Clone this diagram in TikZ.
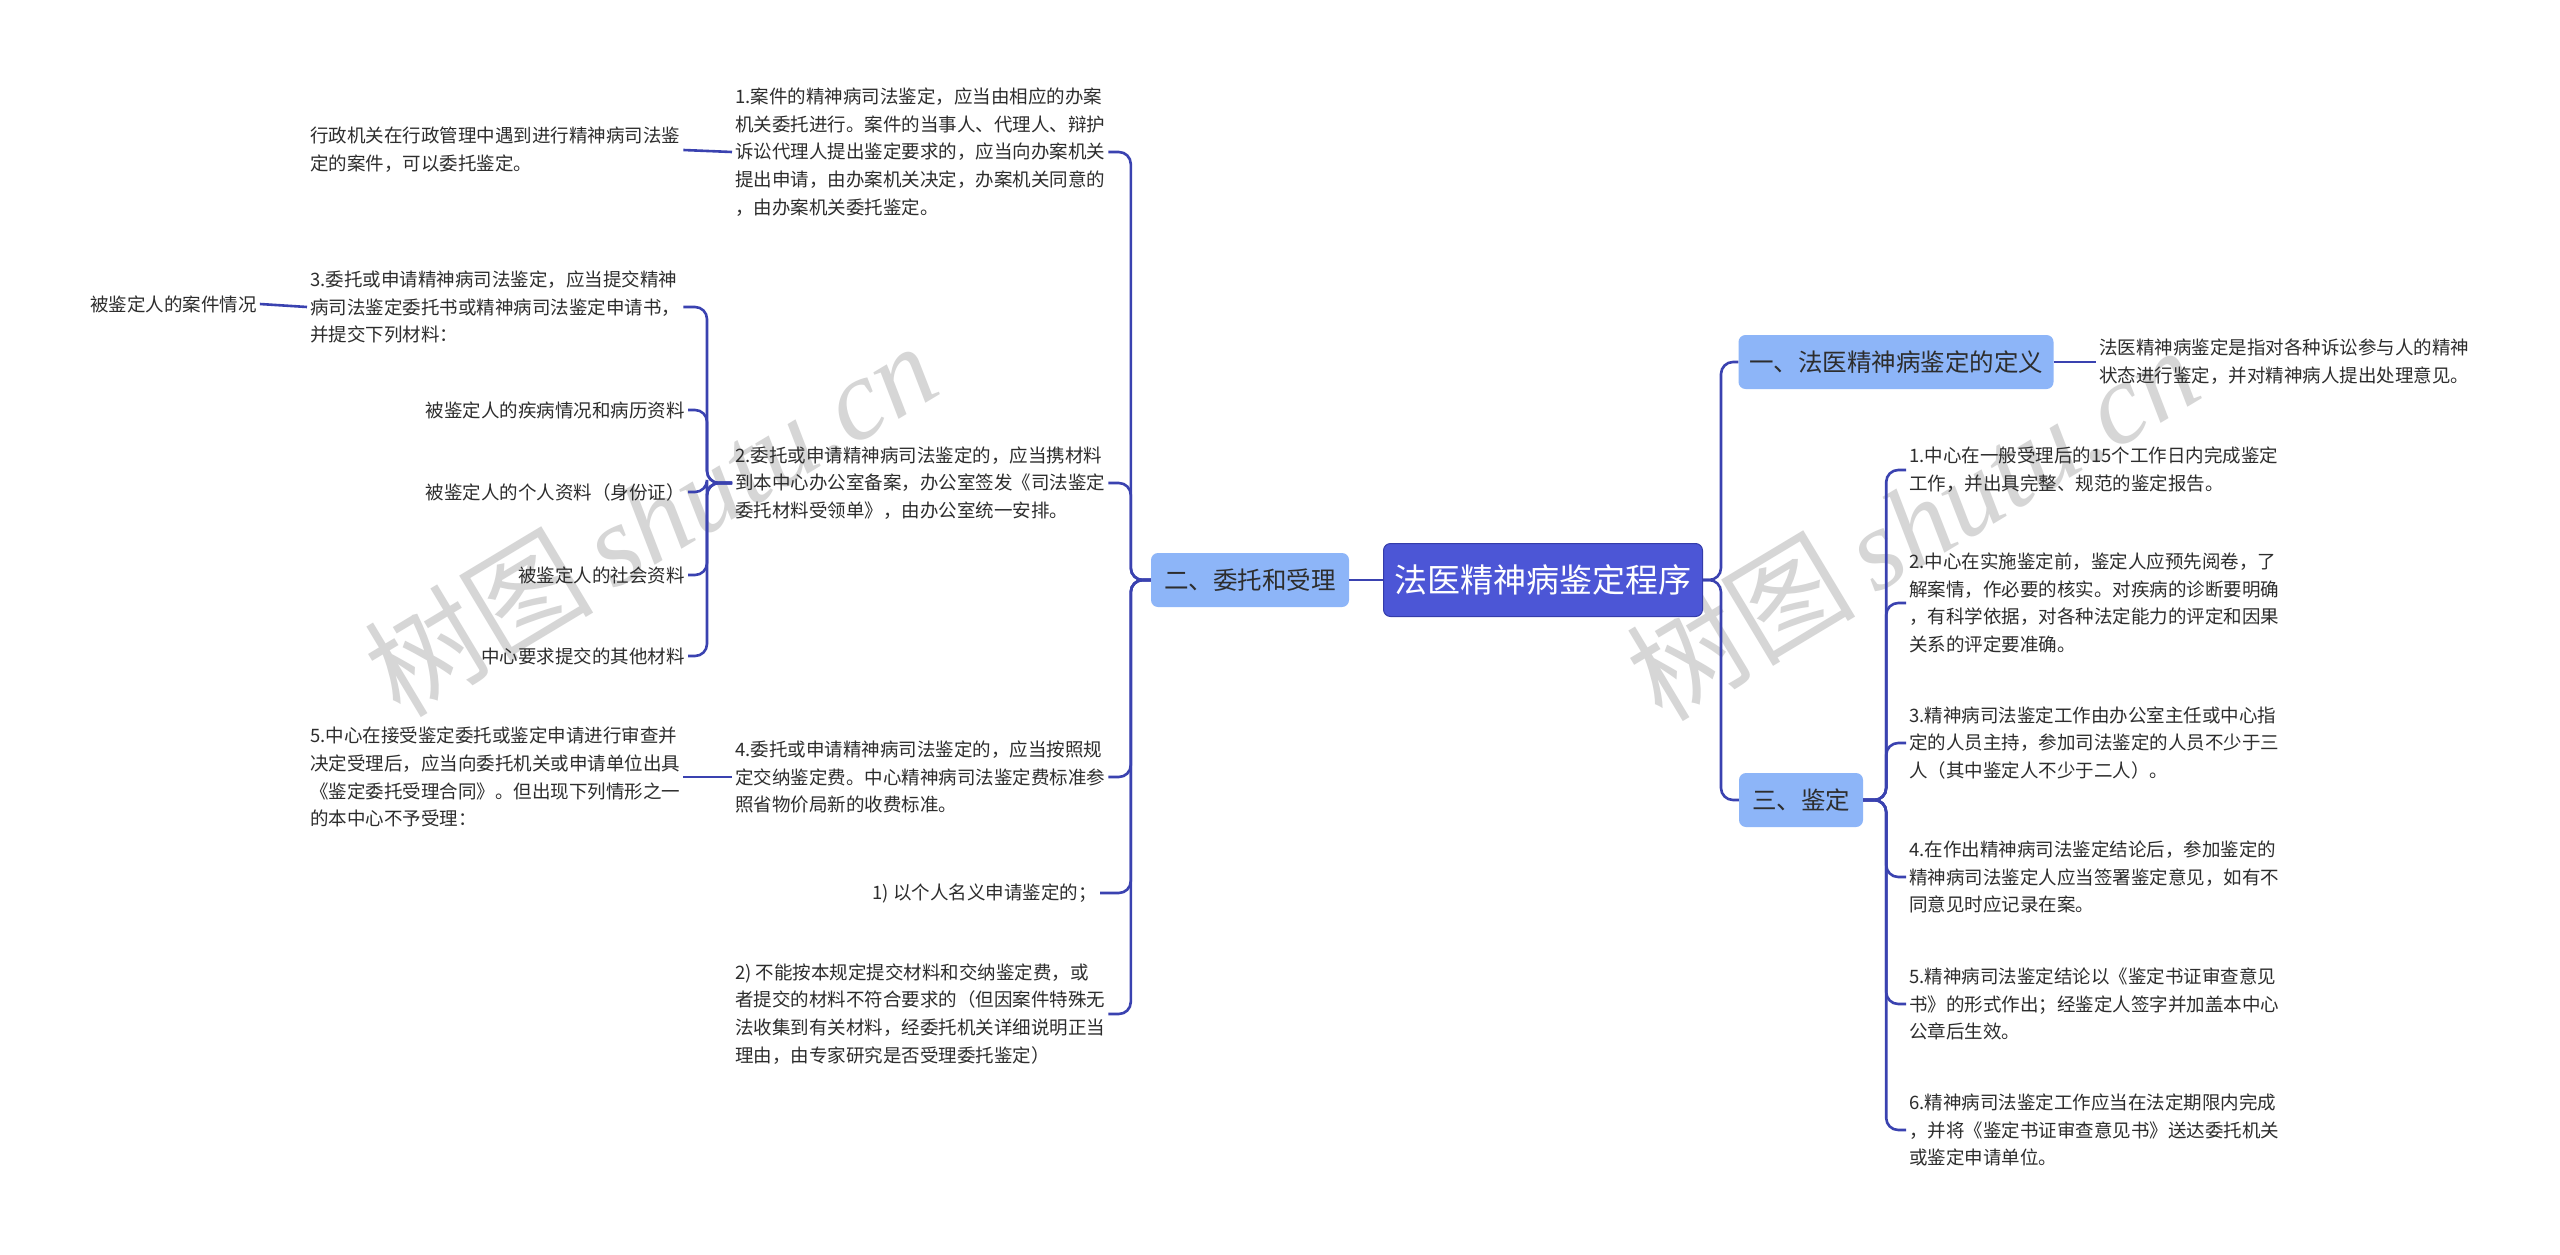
\documentclass[tikz,border=0pt]{standalone}
\usepackage{fontspec}
\setmainfont{Noto Sans CJK SC}
\newfontfamily\wmserif{Liberation Serif}
\definecolor{linec}{RGB}{58,66,176}
\definecolor{rootc}{RGB}{76,86,214}
\definecolor{rootd}{RGB}{52,60,170}
\definecolor{brc}{RGB}{141,181,248}
\definecolor{txtc}{RGB}{45,45,45}
\definecolor{wmc}{RGB}{214,214,214}
\begin{document}
\begin{tikzpicture}[x=1pt,y=-1pt,
  txt/.style={font=\fontsize{18.5}{27.8}\selectfont, text=txtc, align=left, inner sep=3pt},
  txtr/.style={txt, align=right},
  conn/.style={draw=linec, line width=2.6pt, rounded corners=12pt},
  rootbox/.style={fill=rootc, draw=rootd, line width=1pt, rounded corners=7pt, minimum width=319pt, minimum height=73pt, text=white, font=\fontsize{33}{40}\selectfont, inner sep=0pt},
  branchbox/.style={fill=brc, rounded corners=7pt, minimum height=54pt, font=\fontsize{24.5}{30}\selectfont, text=txtc, inner sep=0pt},
  wm/.style={text=wmc, rotate=31, inner sep=0pt}
]
\useasboundingbox[fill=white] (0,0) rectangle (2560,1255);

% watermarks
\node[wm] (wm1) at (650,518) {\fontsize{115}{120}\selectfont 树图\,{\wmserif\itshape shutu.cn}};
\node[wm] (wm2) at (1912,522) {\fontsize{115}{120}\selectfont 树图\,{\wmserif\itshape shutu.cn}};

% root and branches
\node[rootbox] (root) at (1543,580) {法医精神病鉴定程序};
\node[branchbox, minimum width=198pt] (b2) at (1250,580) {二、委托和受理};
\node[branchbox, minimum width=315pt] (b1) at (1896,362) {一、法医精神病鉴定的定义};
\node[branchbox, minimum width=124pt] (b3) at (1801,800) {三、鉴定};

% right side texts
\node[txt, anchor=west] (def) at (2096,362) {法医精神病鉴定是指对各种诉讼参与人的精神\\状态进行鉴定，并对精神病人提出处理意见。};
\node[txt, anchor=west] (r1) at (1906,470) {1.中心在一般受理后的15个工作日内完成鉴定\\工作，并出具完整、规范的鉴定报告。};
\node[txt, anchor=west] (r2) at (1906,603) {2.中心在实施鉴定前，鉴定人应预先阅卷，了\\解案情，作必要的核实。对疾病的诊断要明确\\，有科学依据，对各种法定能力的评定和因果\\关系的评定要准确。};
\node[txt, anchor=west] (r3) at (1906,743) {3.精神病司法鉴定工作由办公室主任或中心指\\定的人员主持，参加司法鉴定的人员不少于三\\人（其中鉴定人不少于二人）。};
\node[txt, anchor=west] (r4) at (1906,877) {4.在作出精神病司法鉴定结论后，参加鉴定的\\精神病司法鉴定人应当签署鉴定意见，如有不\\同意见时应记录在案。};
\node[txt, anchor=west] (r5) at (1906,1004) {5.精神病司法鉴定结论以《鉴定书证审查意见\\书》的形式作出；经鉴定人签字并加盖本中心\\公章后生效。};
\node[txt, anchor=west] (r6) at (1906,1130) {6.精神病司法鉴定工作应当在法定期限内完成\\，并将《鉴定书证审查意见书》送达委托机关\\或鉴定申请单位。};

% left side texts
\node[txt, anchor=west] (l1) at (732,152) {1.案件的精神病司法鉴定，应当由相应的办案\\机关委托进行。案件的当事人、代理人、辩护\\诉讼代理人提出鉴定要求的，应当向办案机关\\提出申请，由办案机关决定，办案机关同意的\\，由办案机关委托鉴定。};
\node[txt, anchor=west] (l1a) at (307,150) {行政机关在行政管理中遇到进行精神病司法鉴\\定的案件，可以委托鉴定。};
\node[txt, anchor=west] (l2) at (732,483) {2.委托或申请精神病司法鉴定的，应当携材料\\到本中心办公室备案，办公室签发《司法鉴定\\委托材料受领单》，由办公室统一安排。};
\node[txt, anchor=west] (m1) at (307,307) {3.委托或申请精神病司法鉴定，应当提交精神\\病司法鉴定委托书或精神病司法鉴定申请书，\\并提交下列材料：};
\node[txt, anchor=west] (m1a) at (87,304) {被鉴定人的案件情况};
\node[txtr, anchor=east] (m2) at (688,410) {被鉴定人的疾病情况和病历资料};
\node[txtr, anchor=east] (m3) at (688,492) {被鉴定人的个人资料（身份证）};
\node[txtr, anchor=east] (m4) at (688,575) {被鉴定人的社会资料};
\node[txtr, anchor=east] (m5) at (688,656) {中心要求提交的其他材料};
\node[txt, anchor=west] (l4) at (732,777) {4.委托或申请精神病司法鉴定的，应当按照规\\定交纳鉴定费。中心精神病司法鉴定费标准参\\照省物价局新的收费标准。};
\node[txt, anchor=west] (l4a) at (307,777) {5.中心在接受鉴定委托或鉴定申请进行审查并\\决定受理后，应当向委托机关或申请单位出具\\《鉴定委托受理合同》。但出现下列情形之一\\的本中心不予受理：};
\node[txtr, anchor=east] (l5) at (1100,893) {1) 以个人名义申请鉴定的；};
\node[txt, anchor=west] (l6) at (732,1014) {2) 不能按本规定提交材料和交纳鉴定费，或\\者提交的材料不符合要求的（但因案件特殊无\\法收集到有关材料，经委托机关详细说明正当\\理由，由专家研究是否受理委托鉴定）};

% connectors
\draw[conn] (root.west) -- (b2.east);
\draw[conn] (root.east) -- ++(18,0) |- (b1.west);
\draw[conn] (root.east) -- ++(18,0) |- (b3.west);
\draw[conn] (b1.east) -- (def.west);
\foreach \c in {r1,r2,r3,r4,r5,r6}
  \draw[conn] (b3.east) -- ++(23,0) |- (\c.west);
\foreach \c in {l1,l2,l4,l5,l6}
  \draw[conn] (b2.west) -- ++(-20,0) |- (\c.east);
\foreach \c in {m1,m2,m3,m4,m5}
  \draw[conn] (l2.west) -- ++(-25,0) |- (\c.east);
\draw[conn] (l1a.east) -- (l1.west);
\draw[conn] (m1a.east) -- (m1.west);
\draw[conn] (l4a.east) -- (l4.west);
\end{tikzpicture}
\end{document}
